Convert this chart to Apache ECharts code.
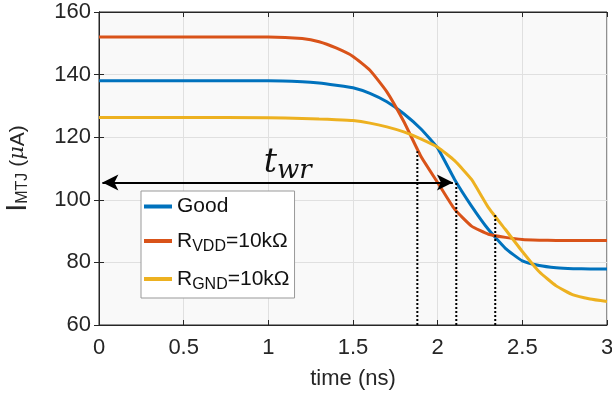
<!DOCTYPE html>
<html><head><meta charset="utf-8">
<script src="https://cdn.jsdelivr.net/npm/echarts@6/dist/echarts.min.js"></script>
<style>html,body{margin:0;padding:0;background:#fff}#c{width:612px;height:401px}</style>
</head><body><div id="c"></div>
<script>
// ---- data ----
const time = [0, 0.5, 1.0, 1.2, 1.3, 1.4, 1.5, 1.6, 1.7, 1.8, 1.9, 2.0, 2.1, 2.2, 2.3, 2.4, 2.5, 2.6, 2.7, 2.8, 2.9, 3.0];
const good = [138, 138, 138, 137.7, 137.3, 136.6, 135.8, 134, 131.3, 127.5, 122.7, 116.5, 106.5, 98, 90.5, 84.5, 80.5, 79, 78.3, 78, 77.9, 77.9];
const rvdd = [152, 152, 152, 151.5, 150.5, 148.5, 145.8, 141.4, 134.5, 125, 114, 105.5, 97, 91.6, 89, 88, 87.3, 87.1, 87, 87, 87, 87];
const rgnd = [126.3, 126.3, 126.2, 126, 125.8, 125.6, 125.3, 124.5, 123.3, 121.7, 119.5, 116.8, 112.5, 106.5, 97.5, 90.5, 83.5, 77, 72.5, 69.6, 68.3, 67.5];
const seriesNames = ['Good', 'R_VDD=10kΩ', 'R_GND=10kΩ'];
const seriesColors = ['#0072BD', '#D95319', '#EDB120'];
const markerTimes = [1.88, 2.11, 2.34];
const markerTops = [115.5, 105.5, 95.3];
const arrowStart = 0.02, arrowEnd = 2.09, arrowLevel = 105.5;
const xMin = 0, xMax = 3, xStep = 0.5;
const yMin = 60, yMax = 160, yStep = 20;

const chart = echarts.init(document.getElementById('c'));
const txt = '#262626';
const font = 'Liberation Sans, Arial, sans-serif';

function legendFmt(name) {
  if (name.startsWith('R_')) {
    const sub = name.slice(2, name.indexOf('='));
    return '{m|R}{s|' + sub + '}{m|' + name.slice(name.indexOf('=')) + '}';
  }
  return '{m|' + name + '}';
}

const mainSeries = [good, rvdd, rgnd].map((arr, k) => ({
  type: 'line', name: seriesNames[k],
  data: time.map((t, i) => [t, arr[i]]),
  showSymbol: false, symbol: 'none', smooth: 0.15,
  lineStyle: { width: 3, color: seriesColors[k] },
  itemStyle: { color: seriesColors[k] },
  z: 3, silent: true
}));

const markerSeries = markerTimes.map((t, k) => ({
  type: 'line', name: 'marker' + k,
  data: [[t, yMin], [t, markerTops[k]]],
  showSymbol: false, symbol: 'none',
  lineStyle: { width: 2, color: '#000', type: [2, 2] },
  z: 4, silent: true
}));

const arrowSeries = {
  type: 'line', name: 'arrow', data: [], silent: true,
  markLine: {
    silent: true, symbol: ['arrow', 'arrow'], symbolSize: [12, 16],
    lineStyle: { color: '#000', width: 2, type: 'solid' },
    label: {
      show: true, position: 'middle', distance: 2, offset: [10, 0],
      formatter: '{t|t}{s|wr}',
      rich: {
        t: { fontFamily: 'DejaVu Serif', fontStyle: 'italic', fontSize: 33, color: '#111', lineHeight: 34 },
        s: { fontFamily: 'DejaVu Serif', fontStyle: 'italic', fontSize: 26, color: '#111', lineHeight: 25, padding: [16, 0, 0, 0] }
      }
    },
    data: [[{ coord: [arrowStart, arrowLevel] }, { coord: [arrowEnd, arrowLevel] }]]
  },
  z: 5
};

chart.setOption({
  animation: false,
  backgroundColor: '#ffffff',
  grid: { left: 99, right: 5, top: 12, bottom: 76, containLabel: false, outerBoundsMode: 'none', show: true, backgroundColor: '#f9f9f9', borderColor: '#262626', borderWidth: 1 },
  legend: {
    data: seriesNames, orient: 'vertical', left: 141, top: 191,
    backgroundColor: '#ffffff', borderColor: '#999', borderWidth: 1, borderRadius: 0,
    padding: [5, 5, 5, 3], itemGap: 10, itemWidth: 28, itemHeight: 4, icon: 'rect',
    selectedMode: false,
    formatter: legendFmt,
    textStyle: {
      color: '#111', fontFamily: font, fontSize: 21,
      rich: {
        m: { fontFamily: font, fontSize: 21, color: '#111', lineHeight: 24 },
        s: { fontFamily: font, fontSize: 16, color: '#111', lineHeight: 16, padding: [12, 0, 0, 0] }
      }
    }
  },
  xAxis: [{
    type: 'value', min: xMin, max: xMax, interval: xStep, position: 'bottom',
    name: 'time (ns)', nameLocation: 'middle', nameGap: 43,
    nameTextStyle: { color: txt, fontFamily: font, fontSize: 22 },
    axisLine: { show: true, lineStyle: { color: txt } },
    axisTick: { show: true, inside: true, length: 5, lineStyle: { color: txt } },
    axisLabel: { color: txt, fontFamily: font, fontSize: 22, margin: 12 },
    splitLine: { show: true, lineStyle: { color: '#e0e0e0', width: 1 } }
  }, {
    type: 'value', min: xMin, max: xMax, interval: xStep, position: 'top',
    axisLine: { show: true, lineStyle: { color: txt } },
    axisTick: { show: true, inside: true, length: 5, lineStyle: { color: txt } },
    axisLabel: { show: false }, splitLine: { show: false }
  }],
  yAxis: [{
    type: 'value', min: yMin, max: yMax, interval: yStep, position: 'left',
    name: '{b|I}{s|MTJ}{n| (}{u|μ}{n|A)}', nameLocation: 'middle', nameGap: 66, nameRotate: 90,
    nameTextStyle: {
      color: txt,
      rich: {
        b: { fontFamily: font, fontSize: 29, color: txt, lineHeight: 30 },
        s: { fontFamily: font, fontSize: 16, color: txt, lineHeight: 16, padding: [10, 0, 0, 0] },
        n: { fontFamily: font, fontSize: 21, color: txt, lineHeight: 26 },
        u: { fontFamily: 'DejaVu Serif', fontStyle: 'italic', fontSize: 21, color: txt, lineHeight: 26 }
      }
    },
    axisLine: { show: true, lineStyle: { color: txt } },
    axisTick: { show: true, inside: true, length: 5, lineStyle: { color: txt } },
    axisLabel: { color: txt, fontFamily: font, fontSize: 22, margin: 8 },
    splitLine: { show: true, lineStyle: { color: '#e0e0e0', width: 1 } }
  }, {
    type: 'value', min: yMin, max: yMax, interval: yStep, position: 'right',
    axisLine: { show: true, lineStyle: { color: txt } },
    axisTick: { show: true, inside: true, length: 5, lineStyle: { color: txt } },
    axisLabel: { show: false }, splitLine: { show: false }
  }],
  series: [...mainSeries, ...markerSeries, arrowSeries]
});
</script></body></html>
